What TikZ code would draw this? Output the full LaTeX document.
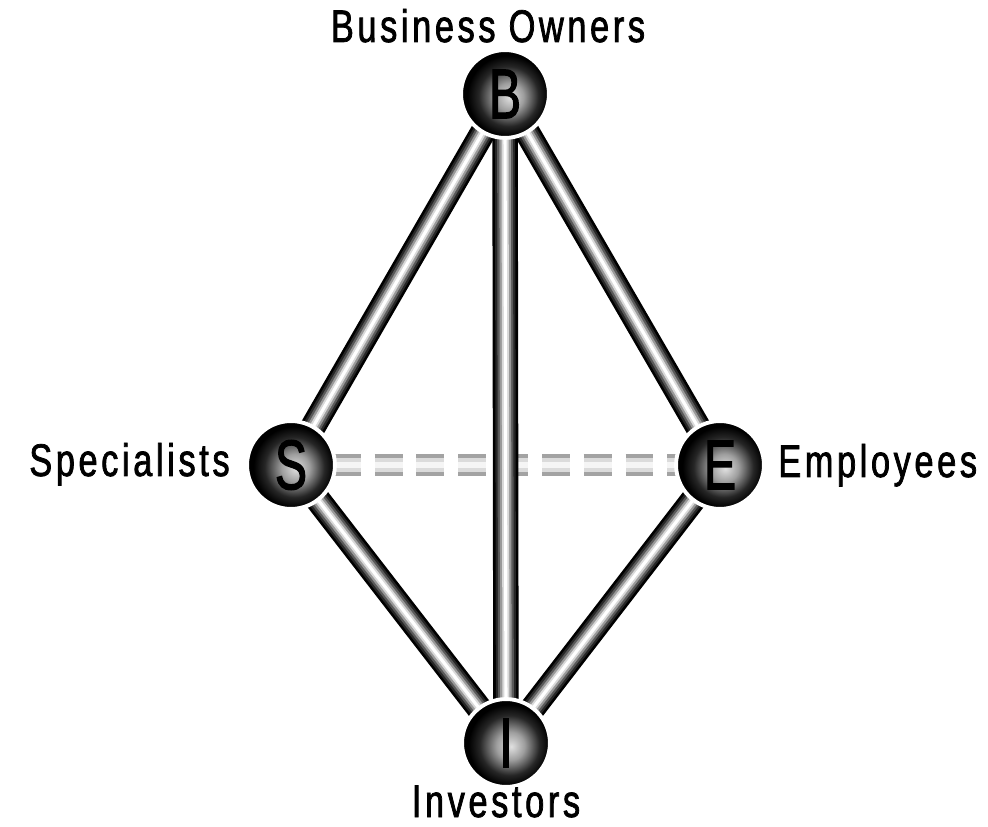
\documentclass[tikz,border=0pt]{standalone}
\usepackage{graphicx}
\usepackage{fontspec}
\setmainfont{Liberation Sans}
\newfontfamily\lblfont{Liberation Sans}[FakeStretch=0.75, LetterSpace=8, FakeBold=1.6]
\newfontfamily\ballfont{Liberation Sans}[FakeStretch=0.68, FakeBold=1.8]
\usetikzlibrary{backgrounds}
\pgfdeclareradialshading{sphere}{\pgfpoint{3bp}{-2bp}}{color(0bp)=(black!12);color(8bp)=(black!38);color(17bp)=(black!85);color(23bp)=(black);color(50bp)=(black)}
\tikzset{
  ball/.style={circle, minimum size=50pt, inner sep=0pt, shading=sphere, draw=white, line width=2.2pt,
    font=\ballfont\fontsize{40}{40}\selectfont, text=black},
  lbl/.style={font=\lblfont\fontsize{26}{30}\selectfont, inner sep=0pt},
  rod/.style={draw=black, line width=14.5pt,
    postaction={draw=black!85, line width=11.5pt},
    postaction={draw=black!65, line width=9pt},
    postaction={draw=black!40, line width=6.5pt},
    postaction={draw=black!15, line width=4pt},
    postaction={draw=white, line width=1.8pt}},
  dashrod/.style={draw=black!36, line width=12.5pt, dash pattern=on 15.9pt off 7.9pt,
    postaction={draw=black!14, line width=7.5pt, dash pattern=on 15.9pt off 7.9pt},
    postaction={draw=black!4, line width=3pt, dash pattern=on 15.9pt off 7.9pt}}
}
\begin{document}
\begin{tikzpicture}[x=0.02cm, y=-0.02cm]
\useasboundingbox (0,0) rectangle (988,827);
\node[ball] (B) at (505,94) {B};
\node[ball] (S) at (291,465) {S};
\node[ball] (E) at (720,465) {E};
\node[ball] (I) at (506,743) {I};
\node[lbl, anchor=base] (lb) at (488,42) {Business Owners};
\node[lbl, anchor=base east] (ls) at (230,476) {Specialists};
\node[lbl, anchor=base west] (le) at (778,477) {Employees};
\node[lbl, anchor=base] (li) at (496,817) {Investors};
\begin{pgfonlayer}{background}
\path[dashrod] (S.center) -- (E.center);
\path[rod] (B.center) -- (S.center);
\path[rod] (B.center) -- (E.center);
\path[rod] (S.center) -- (I.center);
\path[rod] (E.center) -- (I.center);
\path[rod] (B.center) -- (I.center);
\end{pgfonlayer}
\end{tikzpicture}
\end{document}
